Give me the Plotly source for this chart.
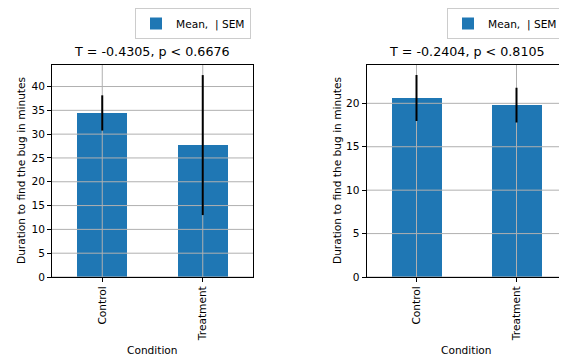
import plotly.graph_objects as go

categories = ["Control", "Treatment"]
left_means = [34.45, 27.7]
left_sem = [3.7, 14.7]
right_means = [20.6, 19.8]
right_sem = [2.65, 2.0]
left_ticks = [0, 5, 10, 15, 20, 25, 30, 35, 40]
right_ticks = [0, 5, 10, 15, 20]
left_title = "T = -0.4305, p < 0.6676"
right_title = "T = -0.2404, p < 0.8105"
legend_label = "Mean,  | SEM"
ytitle = "Duration to find the bug in minutes"
xtitle = "Condition"

# the page body has an 8px margin, so the figure starts at (8, 8) in the window
OFF = 8
W, H = 567 - OFF, 356 - OFF
BLUE = "#1f77b4"
GRID = "#b0b0b0"
FONT = "DejaVu Sans"
FS = 10.6
TFS = 12.7


def px(x):
    return (x - OFF) / W


def py(y):
    return 1 - (y - OFF) / H


fig = go.Figure()

panels = [
    dict(means=left_means, sem=left_sem, ticks=left_ticks, title=left_title,
         xa="x", ya="y", legend="legend", xdom=[px(52), px(253)], ytx=21, legx=135),
    dict(means=right_means, sem=right_sem, ticks=right_ticks, title=right_title,
         xa="x2", ya="y2", legend="legend2", xdom=[px(366.5), px(566.5)], ytx=337, legx=447),
]
ydom = [py(277), py(65)]

layout_axes = {}
legend_style = dict(bgcolor="white", bordercolor="#cccccc", borderwidth=1,
                    font=dict(family=FONT, size=FS, color="black"),
                    xanchor="left", yanchor="top", y=py(OFF), itemwidth=30,
                    tracegroupgap=0)
for i, p in enumerate(panels):
    pos = list(range(len(categories)))
    ymax = max(m + s for m, s in zip(p["means"], p["sem"])) * 1.05
    fig.add_trace(go.Bar(x=pos, y=p["means"], width=0.5, marker=dict(color=BLUE, line=dict(width=0)),
                         name=legend_label, showlegend=True, legend=p["legend"],
                         xaxis=p["xa"], yaxis=p["ya"]))
    gx, gy = [], []
    for t in p["ticks"]:
        gx += [-0.5, len(categories) - 0.5, None]
        gy += [t, t, None]
    for c in pos:
        gx += [c, c, None]
        gy += [0, ymax, None]
    fig.add_trace(go.Scatter(x=gx, y=gy, mode="lines", line=dict(color=GRID, width=1),
                             showlegend=False, hoverinfo="skip", xaxis=p["xa"], yaxis=p["ya"]))
    fig.add_trace(go.Scatter(x=pos, y=p["means"], mode="markers", marker=dict(size=1, opacity=0),
                             error_y=dict(type="data", array=p["sem"], color="black", thickness=2, width=0),
                             showlegend=False, xaxis=p["xa"], yaxis=p["ya"]))
    sfx = "" if i == 0 else "2"
    layout_axes["xaxis" + sfx] = dict(
        domain=p["xdom"], range=[-0.5, len(categories) - 0.5], anchor="y" + sfx, automargin=False,
        tickmode="array", tickvals=pos, ticktext=categories, tickangle=-90,
        showgrid=False, zeroline=False, showline=True, mirror=True, linecolor="black", linewidth=1,
        ticks="outside", ticklen=4, tickwidth=1, tickcolor="black",
        tickfont=dict(family=FONT, size=FS, color="black"),
    )
    layout_axes["yaxis" + sfx] = dict(
        domain=ydom, range=[0, ymax], anchor="x" + sfx, automargin=False,
        tickmode="array", tickvals=p["ticks"],
        showgrid=False, zeroline=False, showline=True, mirror=True, linecolor="black", linewidth=1,
        ticks="outside", ticklen=4, tickwidth=1, tickcolor="black",
        tickfont=dict(family=FONT, size=FS, color="black"),
    )
    layout_axes["legend" if i == 0 else "legend2"] = dict(legend_style, x=px(p["legx"]))
    cx = (p["xdom"][0] + p["xdom"][1]) / 2
    fig.add_annotation(text=p["title"], xref="paper", yref="paper",
                       x=cx, y=py(52), xanchor="center", yanchor="middle", showarrow=False,
                       font=dict(family=FONT, size=TFS, color="black"))
    fig.add_annotation(text=xtitle, xref="paper", yref="paper",
                       x=cx, y=py(350), xanchor="center", yanchor="middle", showarrow=False,
                       font=dict(family=FONT, size=FS, color="black"))
    fig.add_annotation(text=ytitle, xref="paper", yref="paper", textangle=-90,
                       x=px(p["ytx"]), y=(ydom[0] + ydom[1]) / 2, xanchor="center", yanchor="middle",
                       showarrow=False, font=dict(family=FONT, size=FS, color="black"))

fig.update_layout(
    width=W, height=H, margin=dict(l=0, r=0, t=0, b=0, autoexpand=False),
    paper_bgcolor="white", plot_bgcolor="white",
    font=dict(family=FONT, color="black"),
    bargap=0,
    **layout_axes,
)

fig.write_html("out.html")
